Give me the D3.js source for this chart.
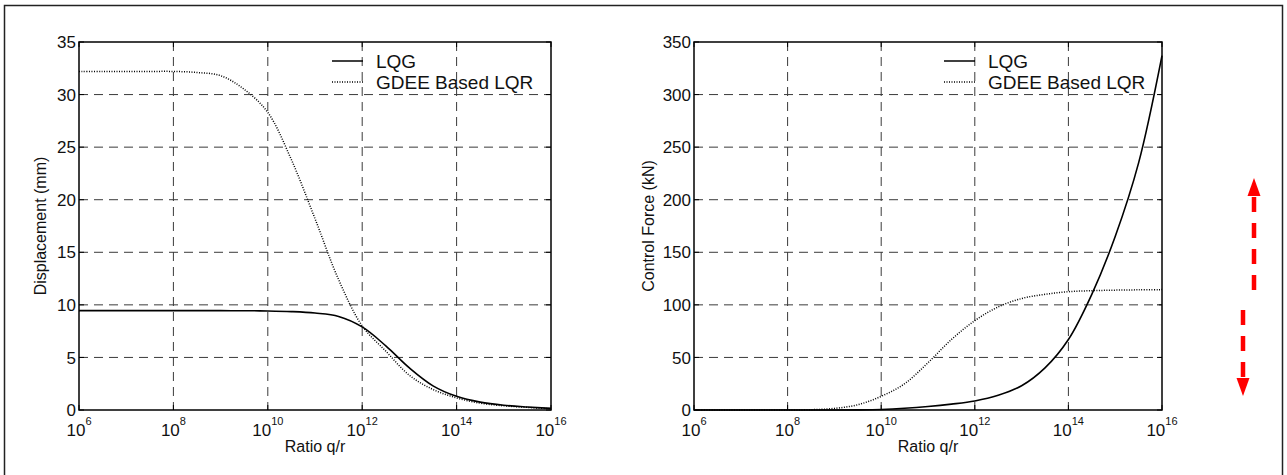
<!DOCTYPE html>
<html><head><meta charset="utf-8">
<script src="https://cdn.jsdelivr.net/npm/d3@7/dist/d3.min.js"></script>
<style>body{margin:0;background:#fff}svg{display:block}text{font-family:"Liberation Sans",Arial,Helvetica,sans-serif;fill:#111}</style>
</head><body><svg id="c" width="1287" height="475"></svg>
<script>
// log10(q/r) sample exponents
const exps = [6,6.5,7,7.5,8,8.5,9,9.5,10,10.5,11,11.5,12,12.5,13,13.5,14,14.5,15,15.5,16];
// Displacement (mm)
const dispLQG  = [9.45,9.45,9.45,9.45,9.45,9.45,9.45,9.44,9.42,9.36,9.22,8.9,7.9,6.1,4.0,2.3,1.3,0.75,0.45,0.28,0.15];
const dispGDEE = [32.2,32.2,32.2,32.2,32.2,32.1,31.8,30.5,28.3,23.8,18.2,12.4,8.0,5.6,3.3,1.95,1.15,0.65,0.4,0.25,0.12];
// Control force (kN)
const forceLQG  = [0,0,0,0,0,0,0,0.1,0.5,1.6,3.3,5.6,8.6,14,23,40,67,110,165,235,337];
const forceGDEE = [0,0,0,0,0,0.3,1.5,5,13,25,45,67,85,98,106,110,112.5,113.5,114,114.3,114.5];
const xTickExps = [6,8,10,12,14,16];
const dispTicks = [0,5,10,15,20,25,30,35];
const forceTicks = [0,50,100,150,200,250,300,350];
const seriesNames = ["LQG","GDEE Based LQR"];

const svg = d3.select("#c");
svg.append("rect").attr("x",4.5).attr("y",5.5).attr("width",1278).attr("height",480)
  .attr("fill","none").attr("stroke","#222").attr("stroke-width",1.5);

function panel(cfg){
  const x = d3.scaleLog().domain([1e6,1e16]).range([cfg.x0,cfg.x1]);
  const y = d3.scaleLinear().domain([0,cfg.ymax]).range([410,42]);
  const g = svg.append("g");
  const xt = xTickExps.map(e=>Math.pow(10,e));
  // grid
  g.selectAll(".gx").data(xt.slice(1,-1)).enter().append("line")
    .attr("x1",d=>x(d)).attr("x2",d=>x(d)).attr("y1",42).attr("y2",410)
    .attr("stroke","#3a3a3a").attr("stroke-width",1).attr("stroke-dasharray","9,6");
  g.selectAll(".gy").data(cfg.ticks.slice(1,-1)).enter().append("line")
    .attr("x1",cfg.x0).attr("x2",cfg.x1).attr("y1",d=>y(d)).attr("y2",d=>y(d))
    .attr("stroke","#3a3a3a").attr("stroke-width",1).attr("stroke-dasharray","9,6");
  // ticks inward
  const tl=5;
  xt.forEach(d=>{
    g.append("line").attr("x1",x(d)).attr("x2",x(d)).attr("y1",410).attr("y2",410-tl).attr("stroke","#000");
    g.append("line").attr("x1",x(d)).attr("x2",x(d)).attr("y1",42).attr("y2",42+tl).attr("stroke","#000");
  });
  cfg.ticks.forEach(d=>{
    g.append("line").attr("x1",cfg.x0).attr("x2",cfg.x0+tl).attr("y1",y(d)).attr("y2",y(d)).attr("stroke","#000");
    g.append("line").attr("x1",cfg.x1).attr("x2",cfg.x1-tl).attr("y1",y(d)).attr("y2",y(d)).attr("stroke","#000");
  });
  // curves
  const line = d3.line().x((d,i)=>x(Math.pow(10,exps[i]))).y(d=>y(d)).curve(d3.curveCatmullRom.alpha(0.5));
  g.append("path").attr("d",line(cfg.lqg)).attr("fill","none").attr("stroke","#000").attr("stroke-width",1.6);
  g.append("path").attr("d",line(cfg.gdee)).attr("fill","none").attr("stroke","#000").attr("stroke-width",1.5).attr("stroke-dasharray","1,1.5");
  // frame
  g.append("rect").attr("x",cfg.x0).attr("y",42).attr("width",cfg.x1-cfg.x0).attr("height",368)
    .attr("fill","none").attr("stroke","#000").attr("stroke-width",1.5);
  // tick labels
  xTickExps.forEach(e=>{
    const t = g.append("text").attr("x",x(Math.pow(10,e))).attr("y",436).attr("text-anchor","middle").style("font-size","17px");
    t.append("tspan").text("10");
    t.append("tspan").text(e).attr("dy",-11).style("font-size","11px");
  });
  cfg.ticks.forEach(d=>{
    g.append("text").attr("x",cfg.x0-3).attr("y",y(d)).attr("dy","0.36em").attr("text-anchor","end").style("font-size","17px").text(d);
  });
  g.append("text").attr("x",(cfg.x0+cfg.x1)/2).attr("y",452).attr("text-anchor","middle").style("font-size","16px").text("Ratio q/r");
  g.append("text").attr("transform",`translate(${cfg.ylx},226) rotate(-90)`).attr("text-anchor","middle").attr("dy","0.35em").style("font-size","16px").text(cfg.ylabel);
  // legend
  const lg = g.append("g");
  [0,1].forEach(i=>{
    const ly = i===0?61:82;
    lg.append("line").attr("x1",cfg.lx).attr("x2",cfg.lx+31).attr("y1",ly).attr("y2",ly).attr("stroke","#000")
      .attr("stroke-width",1.5).attr("stroke-dasharray",i===0?null:"1,1.5");
    lg.append("text").attr("x",cfg.lx+44).attr("y",ly).attr("dy","0.36em").style("font-size","19px").text(seriesNames[i]);
  });
}
panel({x0:79,x1:551,ymax:35,ticks:dispTicks,lqg:dispLQG,gdee:dispGDEE,ylabel:"Displacement (mm)",ylx:40,lx:332});
panel({x0:694,x1:1162,ymax:350,ticks:forceTicks,lqg:forceLQG,gdee:forceGDEE,ylabel:"Control Force (kN)",ylx:648,lx:944});

// red dashed arrows
function arrow(x, yTail, yTip){
  const dir = yTip<yTail ? -1 : 1;
  const headLen=18, headW=13;
  const baseY = yTip - dir*headLen;
  svg.append("line").attr("x1",x).attr("x2",x).attr("y1",yTail).attr("y2",baseY)
    .attr("stroke","#ff0000").attr("stroke-width",4.5).attr("stroke-dasharray","15,11");
  svg.append("path").attr("d",`M${x},${yTip}L${x-headW/2},${baseY}L${x+headW/2},${baseY}Z`).attr("fill","#ff0000");
}
arrow(1254, 290, 178);
arrow(1243, 310, 396);
</script></body></html>
